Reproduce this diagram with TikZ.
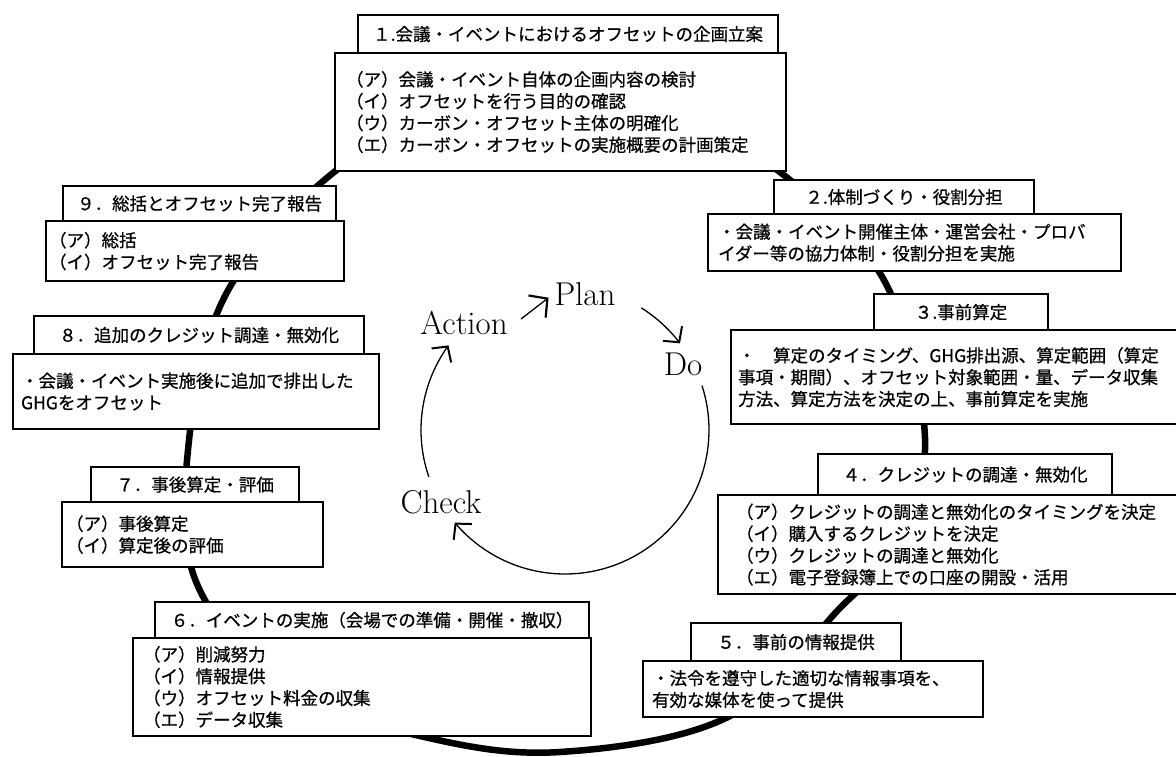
\documentclass[tikz,border=0pt]{standalone}
\usepackage{fontspec}
\newfontfamily\jp[FakeBold=0.7]{Noto Sans CJK JP}
\usetikzlibrary{arrows.meta}
\begin{document}
\begin{tikzpicture}[x=1pt,y=-1pt,
  ring/.style={line width=6.5pt, line join=round},
  ttl/.style={draw, fill=white, line width=2.2pt, anchor=north west, inner sep=0pt, font=\jp\fontsize{17.5}{21}\selectfont},
  bdy/.style={draw, fill=white, line width=2.2pt, anchor=north west, inner ysep=0pt, align=left, font=\jp\fontsize{17.5}{21.8}\selectfont},
  pdca/.style={font=\fontsize{33}{36}\selectfont, inner sep=1pt},
  cyc/.style={line width=1.3pt, -{Straight Barb[length=11pt,width=24pt,line width=2pt]}}
]
\useasboundingbox[fill=white] (0,0) rectangle (1176,757);

% thick background cycle
\draw[ring] plot[smooth cycle, tension=0.6] coordinates {(556,108) (700,135) (785,176) (885,282) (925,438) (895,548) (840,608) (730,716) (560,752) (420,736) (290,690) (197,584) (188,450) (225,296) (328,177) (430,125)};

% 1
\node[ttl, minimum width=420pt, minimum height=38pt] (t1) at (357,14) {１.会議・イベントにおけるオフセットの企画立案};
\node[bdy, minimum height=118pt, inner xsep=11pt, text width=429pt] (b1) at (334,52) {（ア）会議・イベント自体の企画内容の検討\\（イ）オフセットを行う目的の確認\\（ウ）カーボン・オフセット主体の明確化\\（エ）カーボン・オフセットの実施概要の計画策定};
% 2
\node[ttl, minimum width=260pt, minimum height=34pt] (t2) at (773,179) {２.体制づくり・役割分担};
\node[bdy, minimum height=57pt, inner xsep=10pt, text width=393pt] (b2) at (707,213) {・会議・イベント開催主体・運営会社・プロバ\\イダー等の協力体制・役割分担を実施};
% 3
\node[ttl, minimum width=174pt, minimum height=36pt] (t3) at (873,293) {３.事前算定};
\node[bdy, minimum height=94pt, inner xsep=7pt, text width=446pt] (b3) at (730,329) {・　算定のタイミング、GHG排出源、算定範囲（算定\\事項・期間）、オフセット対象範囲・量、データ収集\\方法、算定方法を決定の上、事前算定を実施};
% 4
\node[ttl, minimum width=294pt, minimum height=41pt] (t4) at (817,453) {４．クレジットの調達・無効化};
\node[bdy, minimum height=99pt, inner xsep=18pt, text width=434pt] (b4) at (717,494) {（ア）クレジットの調達と無効化のタイミングを決定\\（イ）購入するクレジットを決定\\（ウ）クレジットの調達と無効化\\（エ）電子登録簿上での口座の開設・活用};
% 5
\node[ttl, minimum width=210pt, minimum height=38pt] (t5) at (690,622) {５．事前の情報提供};
\node[bdy, minimum height=56pt, inner xsep=9pt, text width=322pt] (b5) at (642,660) {・法令を遵守した適切な情報事項を、\\有効な媒体を使って提供};
% 6
\node[ttl, minimum width=434pt, minimum height=36pt] (t6) at (154,601) {６．イベントの実施（会場での準備・開催・撤収）};
\node[bdy, minimum height=98pt, inner xsep=10pt, text width=438pt] (b6) at (132,637) {（ア）削減努力\\（イ）情報提供\\（ウ）オフセット料金の収集\\（エ）データ収集};
% 7
\node[ttl, minimum width=208pt, minimum height=35pt] (t7) at (90,466) {７．事後算定・評価};
\node[bdy, minimum height=65pt, inner xsep=4pt, text width=253pt] (b7) at (61,501) {（ア）事後算定\\（イ）算定後の評価};
% 8
\node[ttl, minimum width=330pt, minimum height=38pt] (t8) at (33,315) {８．追加のクレジット調達・無効化};
\node[bdy, minimum height=75pt, inner xsep=8pt, text width=350pt] (b8) at (12,353) {・会議・イベント実施後に追加で排出した\\GHGをオフセット};
% 9
\node[ttl, minimum width=273pt, minimum height=35pt] (t9) at (62,185) {９．総括とオフセット完了報告};
\node[bdy, minimum height=60pt, inner xsep=3pt, text width=292pt] (b9) at (45,220) {（ア）総括\\（イ）オフセット完了報告};

% PDCA
\node[pdca] (plan) at (585,294) {Plan};
\node[pdca] (act) at (464,323) {Action};
\node[pdca] (do) at (683,364) {Do};
\node[pdca] (chk) at (441,502) {Check};
\draw[cyc] plot[smooth, domain=-58:-37, samples=20] ({565+144*cos(\x)},{430+144*sin(\x)});
\draw[cyc] plot[smooth, domain=-18:140, samples=60] ({565+144*cos(\x)},{430+144*sin(\x)});
\draw[cyc] plot[smooth, domain=161:216, samples=30] ({565+144*cos(\x)},{430+144*sin(\x)});
\coordinate (a1) at (521,319);
\draw[line width=1.3pt, -{Straight Barb[length=13pt,width=28pt,line width=2.2pt]}, shorten >=6pt] (a1) -- (plan.west);
\end{tikzpicture}
\end{document}
